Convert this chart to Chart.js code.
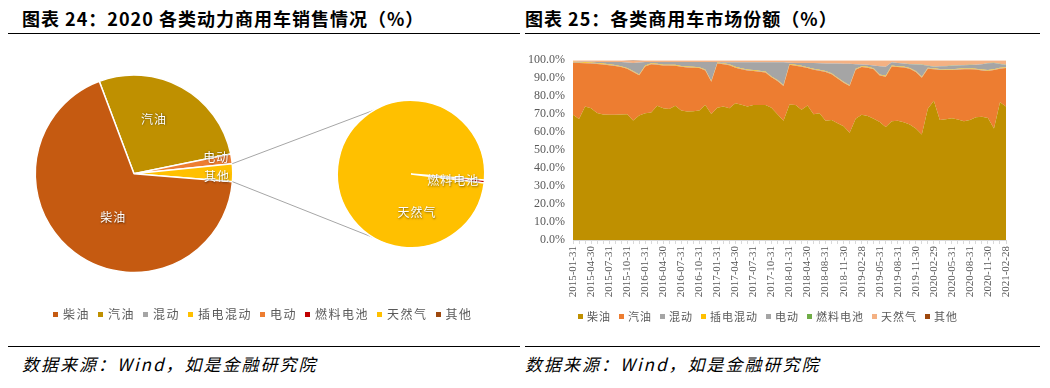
<!DOCTYPE html>
<html><head><meta charset="utf-8">
<script src="https://cdn.jsdelivr.net/npm/chart.js@4.4.1/dist/chart.umd.min.js"></script>
<style>
body{margin:0;width:1050px;height:388px;background:#fff;position:relative;overflow:hidden;font-family:"Noto Sans CJK SC",sans-serif;}
.title{position:absolute;top:8px;line-height:20px;font-size:18px;font-weight:bold;letter-spacing:1px;color:#000;white-space:nowrap}
.hline{position:absolute;height:1px;background:#000}
.src{position:absolute;top:354px;line-height:20px;font-size:17px;font-style:italic;letter-spacing:2px;color:#000;white-space:nowrap}
.legend{position:absolute;display:flex;align-items:center;white-space:nowrap;color:#595959;line-height:14px}
.legend .it{display:flex;align-items:center}
.legend .sq{display:inline-block;width:5px;height:5px}
canvas{position:absolute}
</style></head>
<body>
<div class="title" style="left:22px">图表 24：2020 各类动力商用车销售情况（%）</div>
<div class="title" style="left:525px">图表 25：各类商用车市场份额（%）</div>
<div class="hline" style="left:8px;top:33px;width:512px"></div>
<div class="hline" style="left:525px;top:33px;width:515px"></div>
<div class="hline" style="left:8px;top:346px;width:512px"></div>
<div class="hline" style="left:525px;top:346px;width:515px"></div>
<div class="src" style="left:22px">数据来源：Wind，如是金融研究院</div>
<div class="src" style="left:525px">数据来源：Wind，如是金融研究院</div>

<canvas id="pieA" width="300" height="260" style="left:0;top:45px"></canvas>
<canvas id="pieB" width="290" height="250" style="left:230px;top:45px"></canvas>
<canvas id="area" width="530" height="262" style="left:520px;top:45px"></canvas>
<div id="legA" class="legend" style="left:53px;top:307px;font-size:12px;letter-spacing:1.5px"></div>
<div id="legB" class="legend" style="left:578px;top:309px;font-size:11px;letter-spacing:1px"></div>

<script>
// ---------- Left: 2020 sales by power type (pie of pie) ----------
const pieLabels = ['汽油', '电动', '其他', '柴油'];
const pieValues = [27.5, 1.6, 2.9, 68.0];
const pieColors = ['#BF9000', '#ED7D31', '#FFC000', '#C55A11'];

const subLabels = ['燃料电池', '天然气'];
const subValues = [0.02, 2.88];
const subColors = ['#C00000', '#FFC000'];

const legendANames = ['柴油', '汽油', '混动', '插电混动', '电动', '燃料电池', '天然气', '其他'];
const legendAColors = ['#C55A11', '#BF9000', '#A5A5A5', '#FFC000', '#ED7D31', '#C00000', '#FFC000', '#9E480E'];

// ---------- Right: market share by type ----------
const dates = [
'2015-01-31','2015-02-28','2015-03-31','2015-04-30','2015-05-31','2015-06-30','2015-07-31','2015-08-31','2015-09-30','2015-10-31','2015-11-30','2015-12-31',
'2016-01-31','2016-02-29','2016-03-31','2016-04-30','2016-05-31','2016-06-30','2016-07-31','2016-08-31','2016-09-30','2016-10-31','2016-11-30','2016-12-31',
'2017-01-31','2017-02-28','2017-03-31','2017-04-30','2017-05-31','2017-06-30','2017-07-31','2017-08-31','2017-09-30','2017-10-31','2017-11-30','2017-12-31',
'2018-01-31','2018-02-28','2018-03-31','2018-04-30','2018-05-31','2018-06-30','2018-08-31','2018-09-30','2018-10-31','2018-11-30','2018-12-31',
'2019-01-31','2019-02-28','2019-03-31','2019-04-30','2019-05-31','2019-06-30','2019-07-31','2019-08-31','2019-09-30','2019-10-31','2019-11-30','2019-12-31',
'2020-01-31','2020-02-29','2020-03-31','2020-04-30','2020-05-31','2020-06-30','2020-07-31','2020-08-31','2020-09-30','2020-10-31','2020-11-30','2020-12-31',
'2021-01-31','2021-02-28'];

const diesel = [69.6,67.3,74.2,73.3,70.7,69.8,69.6,69.6,69.8,70.0, 66.5,69.2,70.5,70.9,74.6,73.3,72.9,74.6,72.0,71.5,
  71.6,72.0,75.1,70.1,73.5,74.2,73.3,76.0,75.2,74.2, 75.1,75.1,75.1,73.5,70.0,66.3,75.3,75.1,72.4,74.8,
  70.0,70.5,66.3,66.8,65.0,63.2,59.6,67.5,69.6,69.0, 67.5,65.6,62.8,66.0,66.3,65.5,64.3,62.0,58.7,73.0,
  77.5,66.8,67.2,67.7,67.0,66.0,66.8,68.3,68.5,67.8, 62.0,76.6,74.2];
const gasoline = [29.0,31.2,24.1,24.9,27.2,27.8,27.6,27.2,26.4,25.2, 27.0,22.4,26.0,26.9,22.9,23.7,24.1,22.3,24.3,24.5,
  24.2,23.6,19.2,17.9,24.7,23.6,23.9,19.8,19.8,20.1, 18.9,18.5,18.1,17.0,18.5,19.4,22.1,21.8,24.0,20.8,
  24.7,23.7,27.2,25.4,24.8,24.3,26.0,27.2,26.6,26.8, 27.5,25.9,28.0,30.5,29.9,30.5,30.9,31.5,31.6,22.3,
  17.5,27.8,27.3,26.8,27.7,29.0,28.2,26.5,25.8,26.2, 32.5,18.7,21.4];
const hybrid = [0.2,0.2,0.2,0.2,0.2,0.2,0.2,0.2,0.2,0.2, 0.2,0.2,0.2,0.2,0.2,0.2,0.2,0.2,0.2,0.2,
  0.2,0.2,0.2,0.2,0.2,0.2,0.2,0.2,0.2,0.2, 0.2,0.2,0.2,0.2,0.2,0.2,0.2,0.2,0.2,0.2,
  0.2,0.2,0.2,0.2,0.2,0.2,0.2,0.2,0.2,0.2, 0.2,0.2,0.2,0.2,0.2,0.2,0.2,0.2,0.2,0.2,
  0.2,0.2,0.2,0.2,0.2,0.2,0.2,0.2,0.2,0.2, 0.2,0.2,0.2];
const phev = [0.3,0.3,0.3,0.3,0.3,0.3,0.3,0.3,0.3,0.3, 0.3,0.3,0.3,0.3,0.3,0.3,0.3,0.3,0.3,0.3,
  0.3,0.3,0.3,0.3,0.3,0.3,0.3,0.3,0.3,0.3, 0.3,0.3,0.3,0.3,0.3,0.3,0.3,0.3,0.3,0.3,
  0.3,0.3,0.3,0.3,0.3,0.3,0.3,0.3,0.3,0.3, 0.3,0.3,0.3,0.3,0.3,0.3,0.3,0.3,0.3,0.3,
  0.3,0.3,0.3,0.3,0.3,0.3,0.3,0.3,0.3,0.3, 0.3,0.3,0.3];
const electric = [0.1,0.2,0.3,0.4,0.6,0.9,1.3,1.7,2.3,3.0, 4.5,6.6,2.0,0.7,1.0,1.5,1.5,1.6,2.2,2.5,
  2.7,2.9,4.2,10.5,0.3,0.5,1.1,2.5,3.3,4.0, 4.3,4.7,5.1,7.8,9.8,12.6,0.7,1.1,1.5,2.3,
  3.2,3.6,4.2,5.5,7.8,10.0,11.9,2.6,0.9,1.1, 1.6,4.7,5.0,1.8,1.8,1.6,2.1,3.6,6.7,1.1,
  0.9,1.5,1.7,1.9,1.9,1.7,1.8,2.1,2.9,3.8, 3.5,2.1,1.2];
const fuelCell = [0,0,0,0,0,0,0,0,0,0, 0,0,0,0,0,0,0,0,0,0,
  0,0,0,0,0,0,0,0,0,0, 0,0,0,0,0,0,0,0,0,0,
  0,0,0,0,0,0,0,0,0,0, 0,0,0,0,0,0.1,0.1,0.1,0.1,0.1,
  0.1,0.1,0.1,0.1,0.1,0.1,0.1,0.1,0.1,0.1, 0.1,0.1,0.1];
const naturalGas = [0.8,0.8,0.9,0.9,1.0,1.0,1.0,1.0,1.0,1.0, 1.0,1.0,1.0,1.0,1.0,1.0,1.0,1.0,1.0,1.0,
  1.0,1.0,1.0,1.0,1.0,1.2,1.2,1.2,1.2,1.2, 1.2,1.2,1.2,1.2,1.2,1.2,1.4,1.5,1.6,1.6,
  1.6,1.7,1.8,1.8,1.9,2.0,2.0,2.2,2.4,2.6, 2.9,3.3,3.7,1.2,1.5,1.8,2.1,2.3,2.4,3.0,
  3.5,3.3,3.2,3.0,2.8,2.7,2.6,2.5,2.2,1.6, 1.4,2.0,2.6];
const others = [0,0,0,0,0,0,0,0,0,0.3, 0.5,0.3,0,0,0,0,0,0,0,0,
  0,0,0,0,0,0,0,0,0,0, 0,0,0,0,0,0,0,0,0,0,
  0,0,0,0,0,0,0,0,0,0, 0,0,0,0,0,0,0,0,0,0,
  0,0,0,0,0,0,0,0,0,0, 0,0,0];

const seriesNames = ['柴油', '汽油', '混动', '插电混动', '电动', '燃料电池', '天然气', '其他'];
const seriesData = [diesel, gasoline, hybrid, phev, electric, fuelCell, naturalGas, others];
const seriesColors = ['#BF9000', '#ED7D31', '#A5A5A5', '#FFC000', '#A5A5A5', '#70AD47', '#F4B183', '#9E480E'];
const yTicks = [0, 10, 20, 30, 40, 50, 60, 70, 80, 90, 100];

// ---------- helpers ----------
function buildLegend(el, names, colors, gapAfterSq, gapAfterItem){
  names.forEach((n, i) => {
    const it = document.createElement('span'); it.className = 'it';
    it.style.marginRight = gapAfterItem + 'px';
    const sq = document.createElement('span'); sq.className = 'sq';
    sq.style.background = colors[i]; sq.style.marginRight = gapAfterSq + 'px';
    const tx = document.createElement('span'); tx.textContent = n;
    it.appendChild(sq); it.appendChild(tx); el.appendChild(it);
  });
}
buildLegend(document.getElementById('legA'), legendANames, legendAColors, 5, 8);
buildLegend(document.getElementById('legB'), seriesNames, seriesColors, 4, 8);

function pieLabelPlugin(specs){
  return { id: 'pieLabels', afterDatasetsDraw(chart){
    const ctx = chart.ctx, meta = chart.getDatasetMeta(0);
    ctx.save();
    ctx.font = '12px "Noto Sans CJK SC"';
    try { ctx.letterSpacing = '1px'; } catch(e){}
    ctx.fillStyle = '#fff'; ctx.textAlign = 'center'; ctx.textBaseline = 'middle';
    ctx.shadowColor = 'rgba(0,0,0,0.55)'; ctx.shadowBlur = 2; ctx.shadowOffsetX = 0.6; ctx.shadowOffsetY = 0.6;
    specs.forEach(s => {
      const p = meta.data[s.i].getProps(['x','y','outerRadius'], true);
      const a = (s.deg - 90) * Math.PI / 180;
      ctx.fillText(chart.data.labels[s.i], p.x + Math.cos(a) * p.outerRadius * s.rf, p.y + Math.sin(a) * p.outerRadius * s.rf);
    });
    ctx.restore();
  }};
}

const pieA = new Chart(document.getElementById('pieA'), {
  type: 'pie',
  data: { labels: pieLabels, datasets: [{ data: pieValues, backgroundColor: pieColors, borderColor: '#fff', borderWidth: 1.5 }] },
  options: {
    responsive: false, animation: false, rotation: -20.6,
    layout: { padding: { left: 34.5, top: 29, right: 66.5, bottom: 31.5 } },
    plugins: { legend: { display: false }, tooltip: { enabled: false } }
  },
  plugins: [pieLabelPlugin([{i:0,deg:20,rf:0.59},{i:1,deg:78.5,rf:0.85},{i:2,deg:92,rf:0.84},{i:3,deg:205.5,rf:0.49}])]
});

const connectorPlugin = { id: 'connector', beforeDatasetsDraw(chart){
  const metaA = pieA.getDatasetMeta(0);
  const arc = metaA.data[2].getProps(['x','y','startAngle','endAngle','outerRadius'], true);
  const offA = { x: 0, y: 45 }, offB = { x: 230, y: 45 };
  const b = chart.getDatasetMeta(0).data[0].getProps(['x','y','outerRadius'], true);
  const p1 = { x: arc.x + Math.cos(arc.startAngle) * arc.outerRadius + offA.x - offB.x, y: arc.y + Math.sin(arc.startAngle) * arc.outerRadius + offA.y - offB.y };
  const p2 = { x: arc.x + Math.cos(arc.endAngle) * arc.outerRadius + offA.x - offB.x, y: arc.y + Math.sin(arc.endAngle) * arc.outerRadius + offA.y - offB.y };
  const q1 = { x: b.x + Math.cos(-2 * Math.PI / 3) * b.outerRadius, y: b.y + Math.sin(-2 * Math.PI / 3) * b.outerRadius };
  const q2 = { x: b.x + Math.cos(2 * Math.PI / 3) * b.outerRadius, y: b.y + Math.sin(2 * Math.PI / 3) * b.outerRadius };
  const ctx = chart.ctx;
  ctx.save(); ctx.strokeStyle = '#A6A6A6'; ctx.lineWidth = 1;
  ctx.beginPath(); ctx.moveTo(p1.x, p1.y); ctx.lineTo(q1.x, q1.y); ctx.moveTo(p2.x, p2.y); ctx.lineTo(q2.x, q2.y); ctx.stroke();
  ctx.restore();
}};

new Chart(document.getElementById('pieB'), {
  type: 'pie',
  data: { labels: subLabels, datasets: [{ data: subValues, backgroundColor: subColors, borderColor: '#fff', borderWidth: 1.5 }] },
  options: {
    responsive: false, animation: false, rotation: 94.6,
    layout: { padding: { left: 106.5, top: 54.5, right: 34.5, bottom: 46.5 } },
    plugins: { legend: { display: false }, tooltip: { enabled: false } }
  },
  plugins: [connectorPlugin, pieLabelPlugin([{i:0,deg:98.7,rf:0.58},{i:1,deg:171.3,rf:0.53}])]
});

// ---------- stacked area ----------
new Chart(document.getElementById('area'), {
  type: 'line',
  data: {
    labels: dates,
    datasets: seriesNames.map((n, k) => ({
      label: n, data: seriesData[k], backgroundColor: seriesColors[k], borderColor: 'transparent',
      borderWidth: 0, pointRadius: 0, tension: 0, fill: k === 0 ? 'origin' : '-1'
    }))
  },
  options: {
    responsive: false, animation: false,
    layout: { padding: { top: 13, right: 44, left: 0, bottom: 0 } },
    plugins: { legend: { display: false }, tooltip: { enabled: false } },
    scales: {
      x: {
        type: 'category', offset: false,
        grid: { display: true, drawOnChartArea: false, drawTicks: true, tickLength: 4, color: '#D9D9D9' },
        border: { display: true, color: '#D9D9D9' },
        ticks: { autoSkip: false, maxRotation: 90, minRotation: 90, padding: 2, color: '#595959',
          font: { family: 'Liberation Serif', size: 11 },
          callback: function(v, i){ return i % 3 === 0 ? this.getLabelForValue(v) : ''; } },
        afterFit: s => { s.height = 67; }
      },
      y: {
        stacked: true, min: 0, max: 100,
        afterBuildTicks: s => { s.ticks = yTicks.map(v => ({ value: v })); },
        grid: { display: false, drawTicks: false }, border: { display: false },
        ticks: { padding: 8, color: '#595959', font: { family: 'Liberation Serif', size: 12 },
          callback: v => v.toFixed(1) + '%' },
        afterFit: s => { s.width = 53; }
      }
    }
  }
});
</script>
</body></html>
